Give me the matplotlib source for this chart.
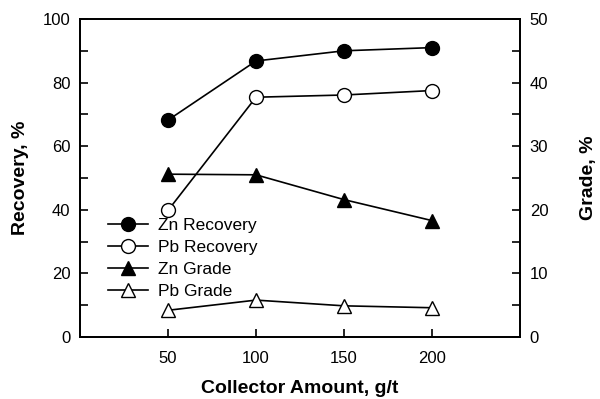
import matplotlib
matplotlib.use("Agg")
import matplotlib.pyplot as plt
from matplotlib.ticker import MultipleLocator

plt.rcParams['font.family'] = ['Liberation Sans', 'DejaVu Sans']

amount = [50, 100, 150, 200]
zn_rec = [68.2, 86.8, 90.0, 91.0]
pb_rec = [39.8, 75.4, 76.1, 77.5]
zn_grade = [25.6, 25.5, 21.6, 18.3]
pb_grade = [4.2, 5.8, 4.9, 4.6]

fig = plt.figure(figsize=(6, 3.99), dpi=100)
ax = fig.add_axes([0.1333, 0.1554, 0.7334, 0.797])
ax2 = ax.twinx()

ms = 10
l1, = ax.plot(amount, zn_rec, 'k-', marker='o', mfc='black', mec='black', ms=ms, lw=1.2, label='Zn Recovery')
l2, = ax.plot(amount, pb_rec, 'k-', marker='o', mfc='white', mec='black', ms=ms, lw=1.2, label='Pb Recovery')
l3, = ax2.plot(amount, zn_grade, 'k-', marker='^', mfc='black', mec='black', ms=ms, lw=1.2, label='Zn Grade')
l4, = ax2.plot(amount, pb_grade, 'k-', marker='^', mfc='white', mec='black', ms=ms, lw=1.2, label='Pb Grade')

ax.set_xlim(0, 250)
ax.set_ylim(0, 100)
ax2.set_ylim(0, 50)
ax.set_xticks(amount)
ax.yaxis.set_major_locator(MultipleLocator(20))
ax.yaxis.set_minor_locator(MultipleLocator(10))
ax2.yaxis.set_major_locator(MultipleLocator(10))
ax2.yaxis.set_minor_locator(MultipleLocator(5))

for a in (ax, ax2):
    a.tick_params(which='both', direction='in', labelsize=12, width=1.2, pad=7)
    a.tick_params(which='major', length=6)
    a.tick_params(which='minor', length=6)
    for s in a.spines.values():
        s.set_linewidth(1.3)
ax.tick_params(axis='x', pad=10)

ax.set_xlabel('Collector Amount, g/t', fontsize=14, fontweight='bold', labelpad=10)
ax.set_ylabel('Recovery, %', fontsize=14, fontweight='bold', labelpad=10)
ax2.set_ylabel('Grade, %', fontsize=14, fontweight='bold', labelpad=23)

ax.legend(handles=[l1, l2, l3, l4], loc='upper left', bbox_to_anchor=(0.048, 0.395),
          frameon=False, fontsize=12.5, handlelength=2.3, handletextpad=0.55,
          labelspacing=0.38, borderaxespad=0)

fig.savefig('out.png', dpi=100)
